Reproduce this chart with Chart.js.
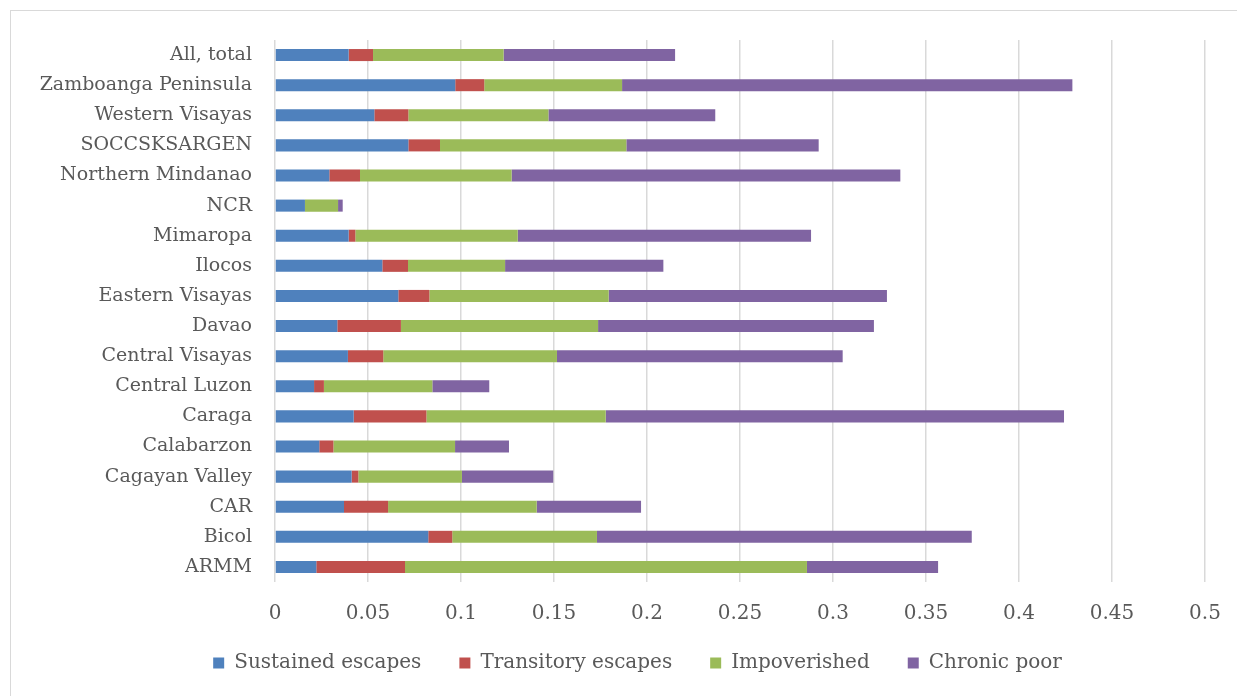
<!DOCTYPE html>
<html>
<head>
<meta charset="utf-8">
<script src="https://cdn.jsdelivr.net/npm/chart.js@4"></script>
<style>
  html, body { margin: 0; padding: 0; background: #ffffff; }
  #wrap { width: 1237px; height: 696px; position: relative; }
</style>
</head>
<body>
<div id="wrap"><canvas id="c" width="1237" height="696"></canvas></div>
<script>
// Regions, in the order they appear from top to bottom
const regions = ["All, total", "Zamboanga Peninsula", "Western Visayas", "SOCCSKSARGEN",
  "Northern Mindanao", "NCR", "Mimaropa", "Ilocos", "Eastern Visayas", "Davao",
  "Central Visayas", "Central Luzon", "Caraga", "Calabarzon", "Cagayan Valley",
  "CAR", "Bicol", "ARMM"];

// Share of households in each poverty-transition group
const sustainedEscapes  = [0.0396, 0.0969, 0.0534, 0.0717, 0.0292, 0.0161, 0.0396, 0.0577, 0.0663,
  0.0335, 0.0392, 0.0210, 0.0423, 0.0238, 0.0412, 0.0371, 0.0824, 0.0222];
const transitoryEscapes = [0.0131, 0.0156, 0.0183, 0.0170, 0.0165, 0.0000, 0.0036, 0.0138, 0.0167,
  0.0342, 0.0190, 0.0053, 0.0391, 0.0076, 0.0036, 0.0237, 0.0129, 0.0477];
const impoverished      = [0.0702, 0.0741, 0.0753, 0.1002, 0.0815, 0.0178, 0.0873, 0.0522, 0.0964,
  0.1060, 0.0934, 0.0583, 0.0964, 0.0654, 0.0557, 0.0799, 0.0778, 0.2161];
const chronicPoor       = [0.0922, 0.2421, 0.0897, 0.1034, 0.2090, 0.0025, 0.1577, 0.0851, 0.1496,
  0.1483, 0.1536, 0.0306, 0.2464, 0.0290, 0.0491, 0.0561, 0.2015, 0.0705];

const tickLabels = ["0", "0.05", "0.1", "0.15", "0.2", "0.25", "0.3", "0.35", "0.4", "0.45", "0.5"];

const seriesNames  = ["Sustained escapes", "Transitory escapes", "Impoverished", "Chronic poor"];
const seriesValues = [sustainedEscapes, transitoryEscapes, impoverished, chronicPoor];
const seriesColors = ["#4F81BD", "#C0504D", "#9BBB59", "#8064A2"];

const FONT = "'DejaVu Serif', serif";
const TEXT = "#595959";

// White background and a light frame round the whole chart
const framePlugin = {
  id: 'frame',
  beforeDraw(chart) {
    const ctx = chart.ctx;
    ctx.save();
    ctx.fillStyle = '#ffffff';
    ctx.fillRect(0, 0, chart.width, chart.height);
    ctx.strokeStyle = '#d9d9d9';
    ctx.lineWidth = 1;
    ctx.strokeRect(10.5, 10.5, chart.width, chart.height);
    ctx.restore();
  }
};

// Centre the legend under the whole figure and lift it a little towards the axis
const legendShift = {
  id: 'legendShift',
  afterLayout(chart) {
    const lg = chart.legend;
    if (lg) {
      lg.left += 30; lg.right += 30;
      lg.top -= 13; lg.bottom -= 13;
    }
  }
};

new Chart(document.getElementById('c'), {
  type: 'bar',
  data: {
    labels: regions,
    datasets: seriesNames.map((name, i) => ({
      label: name,
      data: seriesValues[i],
      backgroundColor: seriesColors[i],
      borderWidth: 0,
      categoryPercentage: 1,
      barPercentage: 0.4
    }))
  },
  options: {
    indexAxis: 'y',
    responsive: false,
    animation: false,
    layout: { padding: { left: 10, right: 32, top: 40, bottom: 0 } },
    plugins: {
      legend: {
        position: 'bottom',
        labels: {
          font: { family: FONT, size: 20 },
          color: TEXT,
          boxWidth: 11,
          boxHeight: 11,
          padding: 38
        }
      },
      tooltip: { enabled: false }
    },
    scales: {
      x: {
        stacked: true,
        min: 0,
        max: 0.5,
        ticks: {
          stepSize: 0.05,
          font: { family: FONT, size: 20 },
          color: TEXT,
          padding: 20,
          maxRotation: 0,
          callback: (v, i) => tickLabels[i]
        },
        grid: { color: '#d9d9d9', lineWidth: 1.5, drawTicks: false },
        border: { display: false },
        afterFit(s) { s.height = 46; s.paddingLeft = 0; s.paddingRight = 0; }
      },
      y: {
        stacked: true,
        ticks: {
          font: { family: FONT, size: 19 },
          color: TEXT,
          padding: 23,
          autoSkip: false
        },
        grid: { display: false, drawTicks: false },
        border: { display: false },
        afterFit(s) { s.width = 265; }
      }
    }
  },
  plugins: [framePlugin, legendShift]
});
</script>
</body>
</html>
